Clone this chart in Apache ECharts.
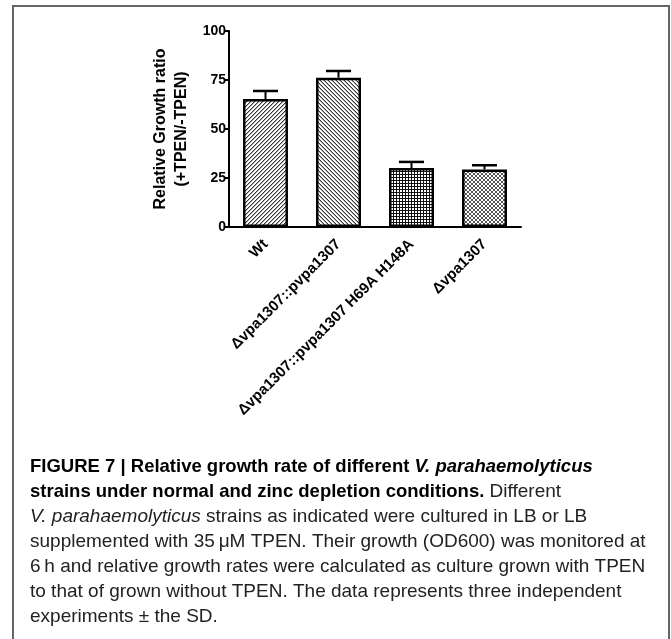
<!DOCTYPE html>
<html>
<head>
<meta charset="utf-8">
<script src="https://cdn.jsdelivr.net/npm/echarts@6/dist/echarts.min.js"></script>
<style>
  html, body { margin: 0; padding: 0; background: #fff; }
  #chart { width: 671px; height: 639px; }
</style>
</head>
<body>
<div id="chart"></div>
<script>
// ---- data ----
const categories = ['Wt', 'Δvpa1307::pvpa1307', 'Δvpa1307::pvpa1307 H69A H148A', 'Δvpa1307'];
const means = [65.3, 76.2, 30.1, 29.4];
const sds = [4.1, 3.4, 3.1, 2.1];
const yMin = 0, yMax = 100, yStep = 25;
const yName = 'Relative Growth ratio\n(+TPEN/-TPEN)';
const captionLines = [
  '{b|FIGURE 7 | Relative growth rate of different }{bi|V. parahaemolyticus}',
  '{b|strains under normal and zinc depletion conditions.}{n| Different}',
  '{i|V. parahaemolyticus}{n| strains as indicated were cultured in LB or LB}',
  '{n|supplemented with 35\u2009μM TPEN. Their growth (OD600) was monitored at}',
  '{n|6\u2009h and relative growth rates were calculated as culture grown with TPEN}',
  '{n|to that of grown without TPEN. The data represents three independent}',
  '{n|experiments ± the SD.}'
];

// ---- fill patterns (styles) ----
function makePattern(kind) {
  const c = document.createElement('canvas');
  const n = kind === 'grid' ? 3 : 4;
  c.width = n; c.height = n;
  const g = c.getContext('2d');
  g.fillStyle = '#fff'; g.fillRect(0, 0, n, n);
  if (kind === 'fwd' || kind === 'back') {
    for (let i = 0; i < n; i++) {
      const y = kind === 'fwd' ? n - 1 - i : i;
      g.fillStyle = '#333'; g.fillRect(i, y, 1, 1);
      g.fillStyle = '#b0b0b0'; g.fillRect(i, (y + 1) % n, 1, 1);
    }
  } else if (kind === 'grid') {
    g.fillStyle = '#111';
    g.fillRect(0, 0, n, 1);
    g.fillRect(0, 0, 1, n);
  } else {
    g.fillStyle = '#555';
    for (let i = 0; i < n; i++) { g.fillRect(i, i, 1, 1); g.fillRect(i, n - 1 - i, 1, 1); }
  }
  return { image: c, repeat: 'repeat' };
}
const patterns = [makePattern('fwd'), makePattern('back'), makePattern('grid'), makePattern('cross')];

const FONT = 'Arial, "Liberation Sans", Helvetica, sans-serif';
const chart = echarts.init(document.getElementById('chart'), null, { renderer: 'canvas' });

const captionGraphics = captionLines.map((t, i) => ({
  type: 'text',
  x: 30,
  y: 467 + i * 25,
  style: {
    text: t,
    verticalAlign: 'middle',
    rich: {
      b: { fontFamily: FONT, fontSize: 18.5, fontWeight: 'bold', fill: '#000' },
      bi: { fontFamily: FONT, fontSize: 18.5, fontWeight: 'bold', fontStyle: 'italic', fill: '#000' },
      i: { fontFamily: FONT, fontSize: 19, fontStyle: 'italic', fill: '#222' },
      n: { fontFamily: FONT, fontSize: 19, fill: '#222' }
    }
  }
}));

chart.setOption({
  animation: false,
  backgroundColor: '#fff',
  grid: { left: 229, top: 31, width: 292, height: 196, containLabel: false },
  xAxis: {
    type: 'category',
    data: categories,
    axisLine: { lineStyle: { color: '#000', width: 2 } },
    axisTick: { alignWithLabel: true, length: 6, lineStyle: { color: '#000', width: 2 } },
    axisLabel: {
      rotate: 45, margin: 15, interval: 0,
      color: '#000', fontFamily: FONT, fontWeight: 'bold', fontSize: 15
    }
  },
  yAxis: {
    type: 'value',
    min: yMin, max: yMax, interval: yStep,
    name: yName,
    nameLocation: 'middle',
    nameGap: 37,
    nameTextStyle: { color: '#000', fontFamily: FONT, fontWeight: 'bold', fontSize: 16, lineHeight: 21 },
    axisLine: { show: true, lineStyle: { color: '#000', width: 2 } },
    axisTick: { show: true, length: 5, lineStyle: { color: '#000', width: 2 } },
    splitLine: { show: false },
    axisLabel: { color: '#000', fontFamily: FONT, fontWeight: 'bold', fontSize: 14, margin: 3 }
  },
  series: [
    {
      type: 'bar',
      barWidth: 45,
      data: means.map((v, i) => ({
        value: v,
        itemStyle: { color: patterns[i], borderColor: '#000', borderWidth: 2.5 }
      })),
      z: 2
    },
    {
      type: 'custom',
      data: categories.map((c, i) => [i, means[i], sds[i]]),
      z: 3,
      renderItem: function (params, api) {
        const idx = api.value(0);
        const m = api.value(1);
        const s = api.value(2);
        const top = api.coord([idx, m + s]);
        const base = api.coord([idx, m]);
        const hw = 12.5;
        return {
          type: 'group',
          children: [
            { type: 'line', shape: { x1: top[0], y1: base[1], x2: top[0], y2: top[1] }, style: { stroke: '#000', lineWidth: 2 } },
            { type: 'line', shape: { x1: top[0] - hw, y1: top[1], x2: top[0] + hw, y2: top[1] }, style: { stroke: '#000', lineWidth: 2.5 } }
          ]
        };
      }
    }
  ],
  graphic: [
    { type: 'rect', shape: { x: 13, y: 6, width: 656, height: 660 }, style: { fill: 'none', stroke: '#666', lineWidth: 2 }, silent: true }
  ].concat(captionGraphics)
});
</script>
</body>
</html>
